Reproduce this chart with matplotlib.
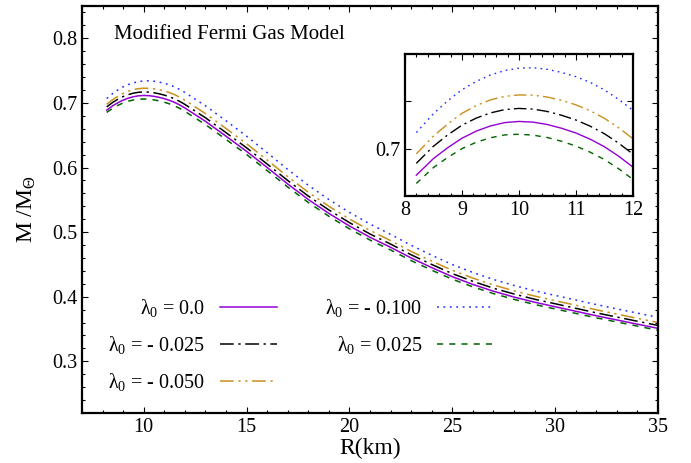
import matplotlib
matplotlib.use('Agg')
import matplotlib.pyplot as plt
from matplotlib.ticker import MultipleLocator

plt.rcParams['font.family'] = ['Liberation Serif', 'DejaVu Serif']
plt.rcParams['mathtext.fontset'] = 'custom'
plt.rcParams['mathtext.rm'] = 'Liberation Serif'
plt.rcParams['mathtext.it'] = 'Liberation Serif:italic'

# radius grid (km)
R = [8.2, 8.5, 8.75, 9.0, 9.25, 9.5, 9.75, 10.0, 10.25, 10.5, 10.75, 11.0,
     11.25, 11.5, 11.75, 12.0, 13, 14, 15, 16, 17, 18, 19, 20, 21, 22, 23,
     24, 25, 26, 27, 28, 29, 30, 31, 32, 33, 34, 35]

# M/Msun for each lambda_0
m_00 = [0.6888, 0.6958, 0.7004, 0.7044, 0.7074, 0.7096, 0.7110, 0.7115, 0.7112,
        0.7102, 0.7086, 0.7066, 0.7040, 0.7008, 0.6968, 0.6922, 0.6715, 0.6485,
        0.6250, 0.6000, 0.5745, 0.5505, 0.5290, 0.5095, 0.4920, 0.4765, 0.4600,
        0.4450, 0.4310, 0.4190, 0.4085, 0.3995, 0.3915, 0.3845, 0.3775, 0.3705,
        0.3640, 0.3575, 0.3510]
m_m025 = [0.6938, 0.7010, 0.7058, 0.7099, 0.7129, 0.7151, 0.7165, 0.7170, 0.7167,
          0.7157, 0.7141, 0.7121, 0.7095, 0.7063, 0.7023, 0.6977, 0.6770, 0.6540,
          0.6305, 0.6054, 0.5799, 0.5558, 0.5343, 0.5147, 0.4971, 0.4815, 0.4649,
          0.4499, 0.4358, 0.4238, 0.4132, 0.4042, 0.3961, 0.3891, 0.3821, 0.3750,
          0.3685, 0.3620, 0.3555]
m_m050 = [0.6978, 0.7053, 0.7104, 0.7149, 0.7182, 0.7206, 0.7221, 0.7227, 0.7226,
          0.7218, 0.7204, 0.7185, 0.7160, 0.7128, 0.7088, 0.7042, 0.6835, 0.6604,
          0.6368, 0.6116, 0.5859, 0.5617, 0.5400, 0.5203, 0.5026, 0.4869, 0.4702,
          0.4550, 0.4409, 0.4288, 0.4182, 0.4091, 0.4010, 0.3939, 0.3868, 0.3797,
          0.3731, 0.3665, 0.3600]
m_m100 = [0.7068, 0.7148, 0.7202, 0.7249, 0.7284, 0.7311, 0.7330, 0.7340, 0.7342,
          0.7335, 0.7322, 0.7304, 0.7280, 0.7248, 0.7208, 0.7162, 0.6955, 0.6723,
          0.6485, 0.6230, 0.5970, 0.5725, 0.5505, 0.5305, 0.5125, 0.4965, 0.4796,
          0.4642, 0.4498, 0.4375, 0.4267, 0.4174, 0.4092, 0.4020, 0.3949, 0.3878,
          0.3812, 0.3746, 0.3680]
m_p025 = [0.6853, 0.6920, 0.6963, 0.7000, 0.7027, 0.7046, 0.7058, 0.7061, 0.7057,
          0.7047, 0.7031, 0.7011, 0.6985, 0.6954, 0.6915, 0.6870, 0.6664, 0.6435,
          0.6201, 0.5952, 0.5698, 0.5459, 0.5245, 0.5051, 0.4877, 0.4723, 0.4559,
          0.4410, 0.4271, 0.4152, 0.4048, 0.3959, 0.3880, 0.3811, 0.3742, 0.3673,
          0.3609, 0.3545, 0.3480]

labels = [r'$\mathrm{λ}_0$ = 0.0', r'$\mathrm{λ}_0$ = - 0.025', r'$\mathrm{λ}_0$ = - 0.050',
          r'$\mathrm{λ}_0$ = - 0.100', r'$\mathrm{λ}_0$ = 0.025']
series = [m_00, m_m025, m_m050, m_m100, m_p025]
colors = ['#9400d3', '#000000', '#c8901e', '#1f2fff', '#006400']
dashes = [None, (9, 3, 1.5, 3), (9, 3, 1.5, 3, 1.5, 3), (1.2, 3), (4, 4)]


def draw(ax, lw):
    lines = []
    for y, c, d, lab in zip(series, colors, dashes, labels):
        ln, = ax.plot(R, y, color=c, lw=lw, label=lab)
        if d is not None:
            ln.set_dashes(d)
        lines.append(ln)
    return lines


def style(ax, width, size):
    for s in ax.spines.values():
        s.set_linewidth(width)
    ax.tick_params(which='both', direction='in', top=True, right=True,
                   labelsize=size, width=0.8)
    ax.tick_params(which='major', length=4.5)
    ax.tick_params(which='minor', length=2.5)


fig = plt.figure(figsize=(6.91, 4.63), dpi=100)
ax = fig.add_axes([0.1187, 0.108, 0.8336, 0.879])
draw(ax, 1.1)
ax.set_xlim(7, 35)
ax.set_ylim(0.22, 0.85)
ax.xaxis.set_major_locator(MultipleLocator(5))
ax.xaxis.set_minor_locator(MultipleLocator(1))
ax.yaxis.set_major_locator(MultipleLocator(0.1))
ax.yaxis.set_minor_locator(MultipleLocator(0.02))
ax.set_xticks([10, 15, 20, 25, 30, 35])
style(ax, 1.6, 14.5)
ax.set_xlabel('R(km)', fontsize=17, labelpad=1)
ax.set_ylabel(r'M /M$_{\mathrm{Θ}}$', fontsize=17, labelpad=10)
ax.text(0.056, 0.929, 'Modified Fermi Gas Model', transform=ax.transAxes,
        fontsize=15, va='center', ha='left')

ax.legend(loc='upper left', bbox_to_anchor=(0.045, 0.285), ncol=2,
          frameon=False, markerfirst=False, fontsize=14.5, handlelength=2.8,
          handletextpad=0.75, columnspacing=2.4, labelspacing=0.75,
          borderpad=0, borderaxespad=0)

# inset zoom on the maximum
ins = fig.add_axes([0.586, 0.5767, 0.33, 0.3067])
draw(ins, 1.0)
ins.set_xlim(8, 12)
ins.set_ylim(0.68, 0.74)
ins.xaxis.set_major_locator(MultipleLocator(1))
ins.xaxis.set_minor_locator(MultipleLocator(0.2))
ins.set_yticks([0.70, 0.72])
ins.set_yticklabels(['0.7', ''])
style(ins, 1.6, 14.5)

fig.savefig('out.png', dpi=100)
